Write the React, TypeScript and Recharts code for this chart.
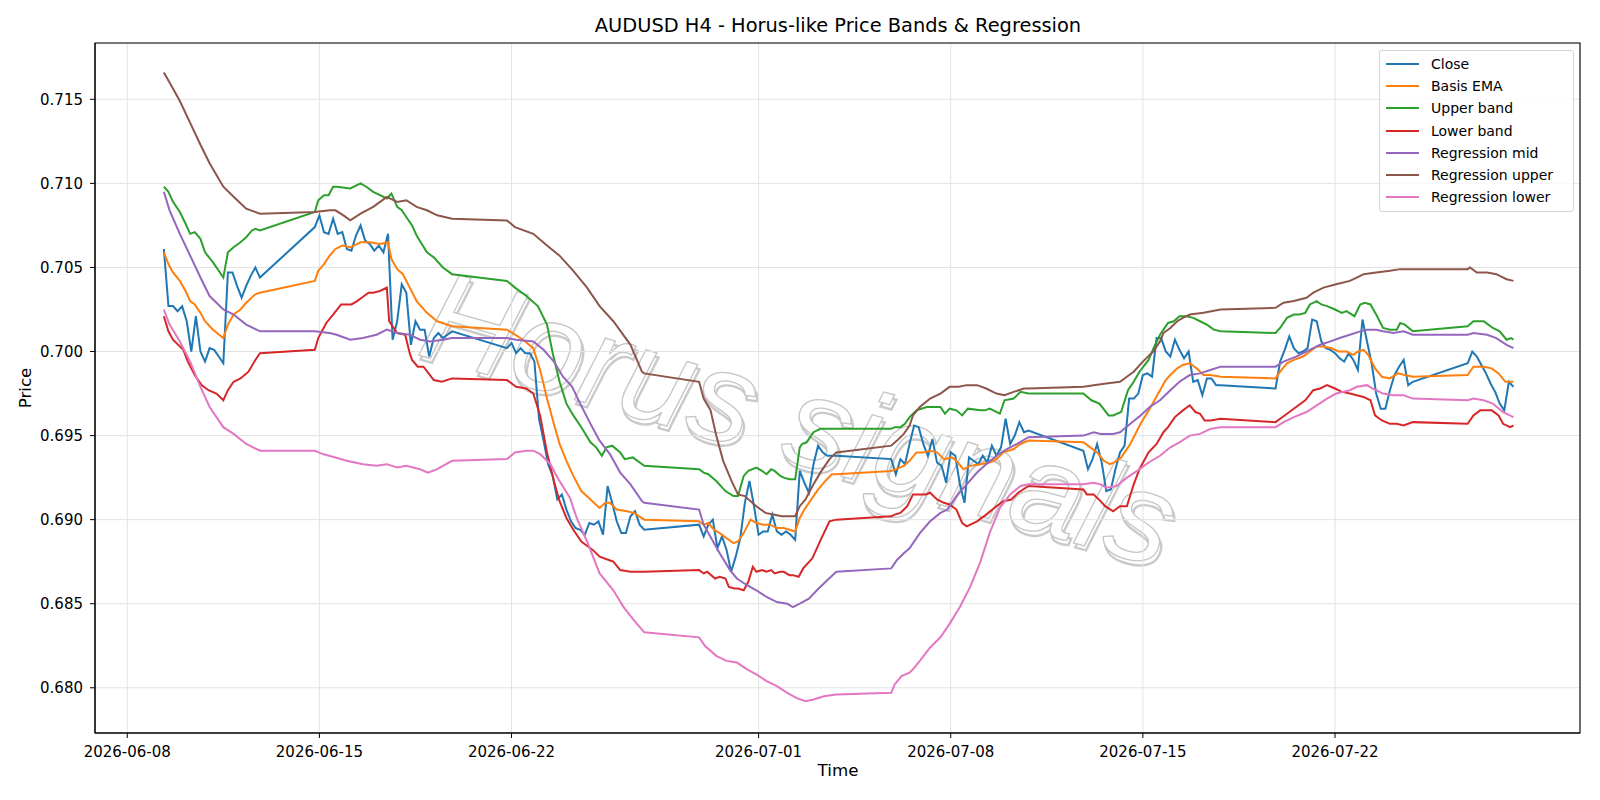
import React from "react";
import { LineChart, Line, XAxis, YAxis, CartesianGrid, ReferenceArea } from "recharts";

// points are [hours since 2026-06-08 00:00, price]
type Pt = [number, number];

const closeSeries: Pt[] = [
  [32, 0.7061], [36, 0.7027], [40, 0.7027], [44, 0.7024], [48, 0.7027], [52, 0.7018], [56, 0.7000], [60, 0.7021],
  [64, 0.7000], [68, 0.6994], [72, 0.7002], [76, 0.7001], [80, 0.6997], [84, 0.6993], [88, 0.7047], [92, 0.7047],
  [96, 0.7039], [100, 0.7032], [104, 0.7039], [108, 0.7045], [112, 0.7050], [116, 0.7044],
  [164, 0.7074], [168, 0.7081], [172, 0.7071], [176, 0.7070], [180, 0.7079], [184, 0.7070], [188, 0.7071], [192, 0.7061],
  [196, 0.7060], [200, 0.7069], [204, 0.7075], [208, 0.7066], [212, 0.7064], [216, 0.7060], [220, 0.7063], [224, 0.7059],
  [228, 0.7070], [232, 0.7007], [236, 0.7018], [240, 0.7040], [244, 0.7035], [248, 0.7004], [252, 0.7018], [256, 0.7013],
  [260, 0.7013], [264, 0.6997], [268, 0.7008], [272, 0.7011], [276, 0.7008], [280, 0.7010], [284, 0.7012],
  [332, 0.7002], [336, 0.7005], [340, 0.6999], [344, 0.7002], [348, 0.6999], [352, 0.6999], [356, 0.6994], [360, 0.6960],
  [364, 0.6947], [368, 0.6933], [372, 0.6926], [376, 0.6912], [380, 0.6915], [384, 0.6906], [388, 0.6899], [392, 0.6895],
  [396, 0.6894], [400, 0.6891], [404, 0.6898], [408, 0.6897], [412, 0.6899], [416, 0.6891], [420, 0.6920], [424, 0.6910],
  [428, 0.6899], [432, 0.6892], [436, 0.6892], [440, 0.6902], [444, 0.6905], [448, 0.6897], [452, 0.6894],
  [500, 0.6897], [504, 0.6890], [508, 0.6897], [512, 0.6900], [516, 0.6883], [520, 0.6890], [524, 0.6882], [528, 0.6869],
  [532, 0.6878], [536, 0.6889], [540, 0.6910], [544, 0.6923], [548, 0.6908], [552, 0.6891], [556, 0.6893], [560, 0.6893],
  [564, 0.6903], [568, 0.6893], [572, 0.6891], [576, 0.6893], [580, 0.6891], [584, 0.6888], [588, 0.6929], [592, 0.6922],
  [596, 0.6916], [600, 0.6933], [604, 0.6944], [608, 0.6940], [612, 0.6938], [616, 0.6938], [620, 0.6938],
  [668, 0.6936], [672, 0.6927], [676, 0.6936], [680, 0.6933], [684, 0.6945], [688, 0.6956], [692, 0.6955], [696, 0.6945],
  [700, 0.6938], [704, 0.6948], [708, 0.6934], [712, 0.6932], [716, 0.6922], [720, 0.6940], [724, 0.6938], [728, 0.6921],
  [732, 0.6910], [736, 0.6937], [740, 0.6935], [744, 0.6933], [748, 0.6938], [752, 0.6934], [756, 0.6944], [760, 0.6938],
  [764, 0.6943], [768, 0.6960], [772, 0.6945], [776, 0.6950], [780, 0.6958], [784, 0.6952], [788, 0.6953],
  [836, 0.6941], [840, 0.6930], [844, 0.6936], [848, 0.6945], [852, 0.6934], [856, 0.6917], [860, 0.6918], [864, 0.6930],
  [868, 0.6940], [872, 0.6944], [876, 0.6972], [880, 0.6972], [884, 0.6975], [888, 0.6986], [892, 0.6987], [896, 0.6985],
  [900, 0.7008], [904, 0.7008], [908, 0.7000], [912, 0.6997], [916, 0.7007], [920, 0.7001], [924, 0.6996], [928, 0.7000],
  [932, 0.6982], [936, 0.6983], [940, 0.6974], [944, 0.6984], [948, 0.6984], [952, 0.6980], [956, 0.6980],
  [1004, 0.6978], [1008, 0.6994], [1012, 0.7001], [1016, 0.7009], [1020, 0.7002], [1024, 0.6999], [1028, 0.7000], [1032, 0.7002],
  [1036, 0.7019], [1040, 0.7018], [1044, 0.7006], [1048, 0.7002], [1052, 0.7001], [1056, 0.6999], [1060, 0.6996], [1064, 0.6994],
  [1068, 0.6999], [1072, 0.6995], [1076, 0.6989], [1080, 0.7019], [1084, 0.7006], [1088, 0.6993], [1092, 0.6975], [1096, 0.6966],
  [1100, 0.6966], [1104, 0.6977], [1108, 0.6986], [1112, 0.6991], [1116, 0.6995], [1120, 0.6980], [1124, 0.6982],
  [1172, 0.6993], [1176, 0.7000], [1180, 0.6997], [1184, 0.6992], [1188, 0.6987], [1192, 0.6981], [1196, 0.6976], [1200, 0.6969],
  [1204, 0.6965], [1208, 0.6982], [1212, 0.6979],
];

const basisSeries: Pt[] = [
  [32, 0.7059], [36, 0.7052], [40, 0.7047], [46, 0.7042], [51, 0.7036], [55, 0.7030], [59, 0.7028], [64, 0.7023], [68, 0.7018],
  [75, 0.7013], [84, 0.7008], [88, 0.7016], [93, 0.7022], [99, 0.7025], [104, 0.7029], [112, 0.7034], [116, 0.7035],
  [164, 0.7042], [167, 0.7048], [172, 0.7052], [177, 0.7057], [182, 0.7061], [188, 0.7063], [195, 0.7062], [204, 0.7065],
  [212, 0.7065], [221, 0.7064], [228, 0.7065], [231, 0.7055], [236, 0.7049], [241, 0.7046], [247, 0.7038], [253, 0.7030],
  [262, 0.7023], [271, 0.7018], [284, 0.7015],
  [332, 0.7013], [339, 0.7010], [346, 0.7007], [355, 0.7002], [361, 0.6989], [367, 0.6972], [373, 0.6957], [378, 0.6945],
  [384, 0.6935], [390, 0.6926], [397, 0.6917], [405, 0.6912], [413, 0.6907], [418, 0.6910], [422, 0.6910], [428, 0.6906],
  [437, 0.6905], [443, 0.6904], [452, 0.6900],
  [500, 0.6899], [504, 0.6897], [508, 0.6898], [513, 0.6894], [518, 0.6892], [524, 0.6889], [530, 0.6886], [534, 0.6887],
  [539, 0.6892], [545, 0.6900], [550, 0.6898], [556, 0.6897], [562, 0.6897], [568, 0.6895], [574, 0.6895], [584, 0.6893],
  [588, 0.6901], [592, 0.6906], [597, 0.6911], [603, 0.6917], [609, 0.6922], [616, 0.6927], [620, 0.6927],
  [668, 0.6929], [672, 0.6930], [679, 0.6932], [684, 0.6935], [690, 0.6940], [696, 0.6940], [702, 0.6941], [708, 0.6940],
  [714, 0.6936], [721, 0.6937], [725, 0.6935], [731, 0.6930], [737, 0.6932], [746, 0.6933], [754, 0.6934], [760, 0.6936],
  [766, 0.6940], [775, 0.6942], [781, 0.6945], [788, 0.6947],
  [836, 0.6946], [840, 0.6944], [848, 0.6940], [854, 0.6935], [859, 0.6933], [863, 0.6934], [869, 0.6937], [877, 0.6945],
  [886, 0.6957], [894, 0.6966], [903, 0.6977], [908, 0.6983], [912, 0.6986], [918, 0.6990], [923, 0.6992], [929, 0.6993],
  [935, 0.6990], [941, 0.6986], [947, 0.6986], [956, 0.6985],
  [1004, 0.6984], [1008, 0.6988], [1014, 0.6993], [1020, 0.6995], [1028, 0.6997], [1034, 0.7000], [1040, 0.7003], [1046, 0.7003],
  [1053, 0.7002], [1059, 0.7000], [1066, 0.7000], [1072, 0.6998], [1076, 0.7000], [1081, 0.7001], [1085, 0.6998], [1091, 0.6990],
  [1097, 0.6985], [1104, 0.6984], [1111, 0.6987], [1117, 0.6986], [1124, 0.6985],
  [1172, 0.6986], [1177, 0.6991], [1186, 0.6991], [1193, 0.6990], [1199, 0.6987], [1205, 0.6982], [1209, 0.6982], [1212, 0.6982],
];

const upperSeries: Pt[] = [
  [32, 0.7098], [36, 0.7095], [40, 0.7089], [46, 0.7083], [51, 0.7076], [55, 0.7070], [59, 0.7071], [64, 0.7067], [68, 0.7059],
  [75, 0.7053], [84, 0.7044], [88, 0.7059], [93, 0.7062], [99, 0.7065], [104, 0.7068], [109, 0.7072], [112, 0.7073], [116, 0.7072],
  [164, 0.7083], [167, 0.7090], [172, 0.7093], [176, 0.7093], [180, 0.7098], [183, 0.7098], [195, 0.7097], [204, 0.7100],
  [209, 0.7098], [215, 0.7095], [221, 0.7093], [227, 0.7091], [231, 0.7094], [236, 0.7086], [240, 0.7084], [245, 0.7079],
  [249, 0.7075], [253, 0.7069], [262, 0.7059], [268, 0.7056], [276, 0.7050], [284, 0.7046],
  [332, 0.7042], [339, 0.7038], [349, 0.7033], [359, 0.7027], [367, 0.7016], [372, 0.6999], [378, 0.6982], [384, 0.6969],
  [390, 0.6962], [397, 0.6955], [405, 0.6946], [410, 0.6943], [415, 0.6938], [419, 0.6943], [424, 0.6944], [431, 0.6940],
  [435, 0.6936], [442, 0.6937], [452, 0.6932],
  [500, 0.6930], [504, 0.6928], [508, 0.6927], [515, 0.6923], [523, 0.6917], [530, 0.6914], [534, 0.6914], [539, 0.6926],
  [543, 0.6929], [550, 0.6931], [555, 0.6929], [559, 0.6927], [563, 0.6930], [566, 0.6929], [571, 0.6926], [574, 0.6925],
  [579, 0.6924], [584, 0.6924], [588, 0.6943], [590, 0.6945], [594, 0.6946], [600, 0.6952], [606, 0.6954], [620, 0.6954],
  [668, 0.6954], [671, 0.6955], [676, 0.6955], [680, 0.6957], [684, 0.6961], [690, 0.6965], [699, 0.6967], [705, 0.6967],
  [711, 0.6967], [715, 0.6963], [719, 0.6966], [725, 0.6965], [730, 0.6962], [735, 0.6966], [746, 0.6965], [750, 0.6965],
  [754, 0.6966], [763, 0.6963], [767, 0.6971], [775, 0.6972], [781, 0.6976], [788, 0.6975],
  [836, 0.6975], [843, 0.6971], [850, 0.6969], [858, 0.6962], [862, 0.6962], [869, 0.6964], [875, 0.6977], [880, 0.6982],
  [885, 0.6988], [893, 0.6995], [898, 0.7003], [903, 0.7010], [906, 0.7013], [910, 0.7017], [915, 0.7018], [920, 0.7021],
  [926, 0.7021], [932, 0.7020], [938, 0.7018], [944, 0.7016], [950, 0.7013], [956, 0.7012],
  [1004, 0.7011], [1008, 0.7014], [1014, 0.7020], [1020, 0.7022], [1025, 0.7022], [1030, 0.7023], [1034, 0.7028], [1040, 0.7030],
  [1044, 0.7028], [1049, 0.7027], [1056, 0.7025], [1062, 0.7023], [1066, 0.7024], [1073, 0.7021], [1078, 0.7028], [1082, 0.7029],
  [1087, 0.7028], [1092, 0.7022], [1098, 0.7014], [1104, 0.7013], [1110, 0.7013], [1113, 0.7017], [1117, 0.7016], [1124, 0.7012],
  [1172, 0.7015], [1177, 0.7018], [1186, 0.7018], [1190, 0.7016], [1194, 0.7014], [1200, 0.7012], [1206, 0.7007], [1210, 0.7008],
  [1212, 0.7007],
];

const lowerSeries: Pt[] = [
  [32, 0.7021], [36, 0.7012], [40, 0.7007], [49, 0.7001], [53, 0.6994], [59, 0.6986], [65, 0.6980], [71, 0.6977], [78, 0.6975],
  [84, 0.6971], [88, 0.6977], [93, 0.6982], [99, 0.6984], [106, 0.6988], [112, 0.6995], [116, 0.6999],
  [164, 0.7001], [167, 0.7008], [174, 0.7017], [180, 0.7022], [187, 0.7028], [196, 0.7028], [201, 0.7030], [205, 0.7032],
  [211, 0.7035], [215, 0.7035], [221, 0.7036], [227, 0.7038], [229, 0.7018], [236, 0.7011], [243, 0.7010], [247, 0.6999],
  [249, 0.6995], [254, 0.6991], [259, 0.6991], [268, 0.6983], [275, 0.6982], [284, 0.6984],
  [332, 0.6983], [340, 0.6979], [349, 0.6978], [355, 0.6975], [361, 0.6962], [367, 0.6940], [373, 0.6923], [378, 0.6911],
  [384, 0.6901], [390, 0.6894], [397, 0.6887], [407, 0.6882], [413, 0.6878], [421, 0.6876], [425, 0.6875], [431, 0.6870],
  [440, 0.6869], [452, 0.6869],
  [500, 0.6870], [504, 0.6868], [507, 0.6869], [514, 0.6865], [518, 0.6866], [523, 0.6865], [526, 0.6860], [531, 0.6859],
  [534, 0.6859], [539, 0.6858], [543, 0.6863], [547, 0.6872], [550, 0.6869], [555, 0.6870], [559, 0.6869], [563, 0.6870],
  [566, 0.6868], [571, 0.6869], [574, 0.6869], [579, 0.6867], [582, 0.6867], [587, 0.6866], [591, 0.6871], [599, 0.6877],
  [607, 0.6889], [614, 0.6899], [620, 0.6900],
  [668, 0.6902], [671, 0.6903], [676, 0.6904], [682, 0.6908], [687, 0.6915], [692, 0.6915], [698, 0.6915], [702, 0.6916],
  [708, 0.6912], [714, 0.6910], [719, 0.6909], [725, 0.6906], [730, 0.6898], [734, 0.6896], [743, 0.6899], [751, 0.6903],
  [760, 0.6908], [766, 0.6911], [773, 0.6912], [779, 0.6916], [788, 0.6920],
  [836, 0.6918], [839, 0.6915], [845, 0.6915], [851, 0.6911], [855, 0.6908], [862, 0.6905], [868, 0.6908], [874, 0.6908],
  [880, 0.6921], [885, 0.6930], [893, 0.6940], [900, 0.6945], [906, 0.6952], [910, 0.6955], [916, 0.6961], [923, 0.6965],
  [929, 0.6968], [934, 0.6964], [938, 0.6963], [942, 0.6959], [947, 0.6959], [956, 0.6960],
  [1004, 0.6958], [1008, 0.6960], [1014, 0.6963], [1022, 0.6967], [1030, 0.6971], [1037, 0.6977], [1043, 0.6978], [1049, 0.6980],
  [1056, 0.6978], [1062, 0.6976], [1069, 0.6975], [1075, 0.6974], [1081, 0.6973], [1087, 0.6971], [1091, 0.6962], [1097, 0.6959],
  [1104, 0.6957], [1110, 0.6957], [1116, 0.6956], [1124, 0.6958],
  [1172, 0.6957], [1177, 0.6962], [1183, 0.6965], [1193, 0.6965], [1199, 0.6962], [1203, 0.6957], [1209, 0.6955], [1212, 0.6956],
];

const regMidSeries: Pt[] = [
  [32, 0.7095], [37, 0.7084], [46, 0.7070], [55, 0.7057], [64, 0.7044], [72, 0.7033], [84, 0.7025], [93, 0.7022], [104, 0.7016],
  [116, 0.7012],
  [164, 0.7012], [177, 0.7011], [183, 0.7010], [195, 0.7007], [206, 0.7008], [218, 0.7010], [227, 0.7013], [236, 0.7011],
  [247, 0.7010], [256, 0.7007], [265, 0.7006], [276, 0.7007], [284, 0.7008],
  [332, 0.7008], [340, 0.7007], [355, 0.7006], [364, 0.7001], [373, 0.6994], [381, 0.6985], [389, 0.6979], [396, 0.6969],
  [405, 0.6957], [413, 0.6947], [422, 0.6939], [431, 0.6928], [440, 0.6921], [450, 0.6911], [452, 0.6910],
  [500, 0.6906], [504, 0.6897], [518, 0.6880], [527, 0.6870], [533, 0.6865], [542, 0.6861], [550, 0.6858], [559, 0.6854],
  [568, 0.6851], [577, 0.6850], [582, 0.6848], [588, 0.6850], [596, 0.6853], [603, 0.6858], [612, 0.6864], [620, 0.6869],
  [668, 0.6871], [673, 0.6876], [679, 0.6880], [684, 0.6883], [693, 0.6892], [702, 0.6899], [711, 0.6904], [717, 0.6906],
  [725, 0.6914], [734, 0.6921], [743, 0.6928], [751, 0.6933], [760, 0.6938], [769, 0.6942], [778, 0.6945], [788, 0.6949],
  [836, 0.6950], [845, 0.6952], [851, 0.6951], [862, 0.6951], [868, 0.6952], [877, 0.6957], [886, 0.6962], [894, 0.6967],
  [903, 0.6971], [912, 0.6977], [920, 0.6982], [929, 0.6986], [938, 0.6987], [947, 0.6989], [956, 0.6991],
  [1004, 0.6991], [1011, 0.6994], [1022, 0.6997], [1034, 0.7001], [1043, 0.7004], [1052, 0.7006], [1060, 0.7008], [1069, 0.7010],
  [1078, 0.7012], [1084, 0.7013], [1092, 0.7013], [1098, 0.7012], [1107, 0.7011], [1116, 0.7012], [1124, 0.7010],
  [1172, 0.7010], [1177, 0.7011], [1189, 0.7010], [1197, 0.7008], [1206, 0.7004], [1212, 0.7002],
];

const regUpperSeries: Pt[] = [
  [32, 0.7166], [37, 0.7160], [46, 0.7149], [55, 0.7136], [64, 0.7123], [72, 0.7112], [84, 0.7098], [93, 0.7092], [104, 0.7085],
  [116, 0.7082],
  [164, 0.7083], [177, 0.7084], [182, 0.7084], [189, 0.7081], [195, 0.7078], [204, 0.7082], [215, 0.7086], [227, 0.7092],
  [236, 0.7089], [244, 0.7090], [253, 0.7086], [262, 0.7084], [271, 0.7081], [284, 0.7079],
  [332, 0.7078], [339, 0.7074], [355, 0.7070], [367, 0.7063], [378, 0.7057], [390, 0.7048], [402, 0.7038], [413, 0.7027],
  [425, 0.7018], [440, 0.7004], [450, 0.6988], [452, 0.6987],
  [500, 0.6982], [504, 0.6972], [510, 0.6965], [515, 0.6950], [521, 0.6935], [529, 0.6922], [534, 0.6915], [540, 0.6914],
  [545, 0.6911], [550, 0.6908], [558, 0.6904], [565, 0.6903], [572, 0.6902], [584, 0.6902], [588, 0.6908], [593, 0.6912],
  [600, 0.6921], [607, 0.6929], [614, 0.6936], [620, 0.6940],
  [668, 0.6944], [673, 0.6947], [679, 0.6951], [684, 0.6956], [687, 0.6962], [693, 0.6967], [702, 0.6972], [711, 0.6975],
  [719, 0.6979], [727, 0.6979], [734, 0.6980], [743, 0.6980], [751, 0.6978], [760, 0.6975], [767, 0.6974], [775, 0.6976],
  [784, 0.6978], [788, 0.6978],
  [836, 0.6979], [845, 0.6980], [856, 0.6981], [868, 0.6982], [874, 0.6985], [880, 0.6988], [888, 0.6994], [897, 0.7000],
  [903, 0.7006], [906, 0.7011], [912, 0.7014], [918, 0.7018], [923, 0.7020], [929, 0.7022], [941, 0.7023], [956, 0.7025],
  [1004, 0.7026], [1011, 0.7029], [1020, 0.7030], [1031, 0.7032], [1037, 0.7035], [1046, 0.7038], [1057, 0.7040], [1069, 0.7042],
  [1075, 0.7044], [1081, 0.7046], [1092, 0.7047], [1104, 0.7048], [1113, 0.7049], [1124, 0.7049],
  [1172, 0.7049], [1174, 0.7050], [1180, 0.7047], [1189, 0.7047], [1197, 0.7046], [1206, 0.7043], [1212, 0.7042],
];

const regLowerSeries: Pt[] = [
  [32, 0.7025], [37, 0.7016], [46, 0.7006], [55, 0.6994], [64, 0.6979], [72, 0.6967], [84, 0.6955], [93, 0.6951], [104, 0.6945],
  [116, 0.6941],
  [164, 0.6941], [171, 0.6939], [182, 0.6937], [192, 0.6935], [206, 0.6933], [218, 0.6932], [227, 0.6933], [236, 0.6931],
  [244, 0.6932], [256, 0.6930], [263, 0.6928], [271, 0.6930], [276, 0.6932], [284, 0.6935],
  [332, 0.6936], [339, 0.6940], [349, 0.6941], [355, 0.6941], [361, 0.6939], [370, 0.6933], [377, 0.6924], [387, 0.6913],
  [393, 0.6901], [402, 0.6887], [413, 0.6868], [425, 0.6858], [434, 0.6848], [442, 0.6841], [452, 0.6833],
  [500, 0.6830], [505, 0.6825], [515, 0.6819], [524, 0.6816], [533, 0.6815], [542, 0.6811], [550, 0.6808], [559, 0.6804],
  [568, 0.6801], [577, 0.6797], [585, 0.6794], [593, 0.6792], [600, 0.6793], [609, 0.6795], [620, 0.6796],
  [668, 0.6797], [671, 0.6802], [677, 0.6807], [684, 0.6809], [687, 0.6811], [693, 0.6816], [702, 0.6824], [711, 0.6830],
  [719, 0.6838], [728, 0.6848], [737, 0.6860], [746, 0.6875], [754, 0.6892], [763, 0.6907], [772, 0.6915], [781, 0.6920],
  [788, 0.6921],
  [836, 0.6921], [845, 0.6922], [851, 0.6921], [856, 0.6919], [865, 0.6920], [874, 0.6925], [883, 0.6929], [893, 0.6934],
  [903, 0.6938], [912, 0.6943], [920, 0.6946], [929, 0.6950], [938, 0.6951], [947, 0.6954], [956, 0.6955],
  [1004, 0.6955], [1011, 0.6958], [1020, 0.6961], [1031, 0.6964], [1040, 0.6968], [1049, 0.6972], [1057, 0.6975], [1069, 0.6977],
  [1075, 0.6979], [1084, 0.6980], [1089, 0.6978], [1098, 0.6975], [1107, 0.6974], [1116, 0.6974], [1124, 0.6972],
  [1172, 0.6971], [1177, 0.6972], [1186, 0.6971], [1194, 0.6969], [1203, 0.6964], [1212, 0.6961],
];

const xTickHours = [0, 168, 336, 552, 720, 888, 1056];
const xTickLabels = ["2026-06-08", "2026-06-15", "2026-06-22", "2026-07-01", "2026-07-08", "2026-07-15", "2026-07-22"];
const yTicks = [0.68, 0.685, 0.69, 0.695, 0.7, 0.705, 0.71, 0.715];

const series = [
  { name: "Close", color: "#1f77b4", pts: closeSeries },
  { name: "Basis EMA", color: "#ff7f0e", pts: basisSeries },
  { name: "Upper band", color: "#2ca02c", pts: upperSeries },
  { name: "Lower band", color: "#d62728", pts: lowerSeries },
  { name: "Regression mid", color: "#9467bd", pts: regMidSeries },
  { name: "Regression upper", color: "#8c564b", pts: regUpperSeries },
  { name: "Regression lower", color: "#e377c2", pts: regLowerSeries },
];

const X_DOMAIN: [number, number] = [-28.2, 1270.2];
const Y_DOMAIN: [number, number] = [0.67731, 0.71835];
const FONT = '"DejaVu Sans", sans-serif';

function Watermark() {
  return (
    <svg width={1600} height={800} style={{ position: "absolute", left: 0, top: 0 }}>
      <g transform="translate(800 418) rotate(16)" fontFamily='"Liberation Sans", sans-serif' fontSize={128} fontStyle="italic">
        <text x={3} y={4} textAnchor="middle" dominantBaseline="central" fill="none" stroke="#8a8a8a" strokeOpacity={0.45} strokeWidth={2.4}>
          Horus signals
        </text>
        <text x={0} y={0} textAnchor="middle" dominantBaseline="central" fill="#ffffff" stroke="#c6c6c6" strokeWidth={1.3}>
          Horus signals
        </text>
      </g>
    </svg>
  );
}

function LegendBox() {
  return (
    <div
      style={{
        position: "absolute",
        left: 1379,
        top: 50,
        width: 195,
        padding: "2px 0 3px 0",
        border: "1px solid #d4d4d4",
        borderRadius: 3,
        background: "rgba(255,255,255,0.8)",
        fontFamily: FONT,
        fontSize: 14,
        color: "#000",
        boxSizing: "border-box",
      }}
    >
      {series.map((s) => (
        <div key={s.name} style={{ display: "flex", alignItems: "center", height: 22.2 }}>
          <div style={{ width: 33, height: 2, background: s.color, marginLeft: 6, marginRight: 12 }} />
          <span>{s.name}</span>
        </div>
      ))}
    </div>
  );
}

export default function App() {
  return (
    <div style={{ position: "absolute", left: 0, top: 0, width: 1600, height: 800, background: "#fff", fontFamily: FONT }}>
      <Watermark />
      <div style={{ position: "absolute", left: 0, top: 0 }}>
        <LineChart width={1600} height={800} margin={{ top: 43, right: 20, bottom: 0, left: 0 }}>
          <CartesianGrid stroke="#e3e3e3" strokeWidth={1} />
          <XAxis
            dataKey="h"
            type="number"
            domain={X_DOMAIN}
            allowDataOverflow
            ticks={xTickHours}
            interval={0}
            tickFormatter={(h: number) => xTickLabels[xTickHours.indexOf(h)] ?? ""}
            height={67}
            tickSize={5}
            tickMargin={8}
            stroke="#000"
            tick={{ fill: "#000", fontSize: 15 }}
          />
          <YAxis
            type="number"
            domain={Y_DOMAIN}
            allowDataOverflow
            ticks={yTicks}
            interval={0}
            tickFormatter={(v: number) => v.toFixed(3)}
            width={95}
            tickSize={5}
            tickMargin={7}
            stroke="#000"
            tick={{ fill: "#000", fontSize: 15 }}
          />
          {series.map((s) => (
            <Line
              key={s.name}
              data={s.pts.map(([h, v]) => ({ h, v }))}
              dataKey="v"
              name={s.name}
              stroke={s.color}
              strokeWidth={2}
              dot={false}
              activeDot={false}
              type="linear"
              isAnimationActive={false}
            />
          ))}
          <ReferenceArea
            x1={X_DOMAIN[0]}
            x2={X_DOMAIN[1]}
            y1={Y_DOMAIN[0]}
            y2={Y_DOMAIN[1]}
            fill="none"
            fillOpacity={0}
            stroke="#000"
            strokeWidth={1.1}
            ifOverflow="visible"
          />
        </LineChart>
      </div>
      <svg width={1600} height={800} style={{ position: "absolute", left: 0, top: 0, pointerEvents: "none" }} fontFamily={FONT}>
        <text x={838} y={32} textAnchor="middle" fontSize={19.4} fill="#000">
          AUDUSD H4 - Horus-like Price Bands &amp; Regression
        </text>
        <text x={838} y={776} textAnchor="middle" fontSize={16.7} fill="#000">
          Time
        </text>
        <text x={31} y={388} textAnchor="middle" fontSize={16.7} fill="#000" transform="rotate(-90 31 388)">
          Price
        </text>
      </svg>
      <LegendBox />
    </div>
  );
}
